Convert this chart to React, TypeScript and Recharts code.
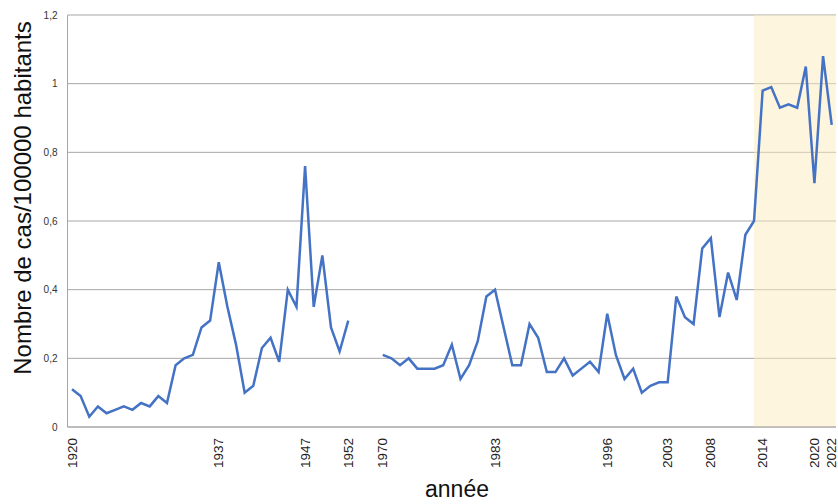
import React from 'react';
import {
  CartesianGrid,
  Label,
  Line,
  LineChart,
  ReferenceArea,
  XAxis,
  YAxis,
} from 'recharts';

// incidence (cas / 100000 habitants)
const FIRST_YEAR_EARLY = 1920;
const VALUES_EARLY = [
  0.11, 0.09, 0.03, 0.06, 0.04, 0.05, 0.06, 0.05, 0.07, 0.06,
  0.09, 0.07, 0.18, 0.2, 0.21, 0.29, 0.31, 0.48, 0.35, 0.24,
  0.1, 0.12, 0.23, 0.26, 0.19, 0.4, 0.35, 0.76, 0.35, 0.5,
  0.29, 0.22, 0.31,
];

const FIRST_YEAR_LATE = 1970;
const VALUES_LATE = [
  0.21, 0.2, 0.18, 0.2, 0.17, 0.17, 0.17, 0.18, 0.24, 0.14,
  0.18, 0.25, 0.38, 0.4, 0.29, 0.18, 0.18, 0.3, 0.26, 0.16,
  0.16, 0.2, 0.15, 0.17, 0.19, 0.16, 0.33, 0.21, 0.14, 0.17,
  0.1, 0.12, 0.13, 0.13, 0.38, 0.32, 0.3, 0.52, 0.55, 0.32,
  0.45, 0.37, 0.56, 0.6, 0.98, 0.99, 0.93, 0.94, 0.93, 1.05,
  0.71, 1.08, 0.88,
];

// empty slots left on the axis between 1952 and 1970
const GAP_SLOTS = ['gap-1', 'gap-2', 'gap-3'];

const X_TICKS = ['1920', '1937', '1947', '1952', '1970', '1983', '1996', '2003', '2008', '2014', '2020', '2022'];
const Y_TICKS = [0, 0.2, 0.4, 0.6, 0.8, 1, 1.2];

const HIGHLIGHT_FROM = '2013';
const HIGHLIGHT_TO = '2022';

const data = [
  ...VALUES_EARLY.map((v, i) => ({ year: String(FIRST_YEAR_EARLY + i), value: v })),
  ...GAP_SLOTS.map((g) => ({ year: g, value: null })),
  ...VALUES_LATE.map((v, i) => ({ year: String(FIRST_YEAR_LATE + i), value: v })),
];

const FONT = '"Liberation Sans", Arial, sans-serif';
const GRID = '#a6a6a6';

const YearTick = (props: any) => {
  const { x, y, payload } = props;
  return (
    <text
      x={x}
      y={y}
      transform={`rotate(-90, ${x}, ${y})`}
      textAnchor="end"
      dominantBaseline="central"
      fontSize={13.5}
      fontFamily={FONT}
      fill="#222"
    >
      {payload.value}
    </text>
  );
};

const Band = (props: any) => (
  <rect
    x={props.x}
    y={props.y}
    width={props.width + 4}
    height={props.height}
    fill="#fdebbf"
    fillOpacity={0.5}
  />
);

export default function App() {
  return (
    <div style={{ position: 'absolute', left: 0, top: 0, background: '#fff' }}>
      <LineChart
        width={838}
        height={504}
        data={data}
        margin={{ top: 15, right: 2, bottom: 0, left: 0 }}
      >
        <CartesianGrid vertical={false} stroke={GRID} strokeWidth={1} />
        <XAxis
          dataKey="year"
          ticks={X_TICKS}
          interval={0}
          tick={<YearTick />}
          tickLine={false}
          tickSize={0}
          tickMargin={11}
          axisLine={{ stroke: GRID }}
          padding={{ left: 4.5, right: 4.3 }}
          height={77}
        >
          <Label
            content={() => (
              <text x={457} y={497} textAnchor="middle" fontSize={23} fontFamily={FONT} fill="#111">
                année
              </text>
            )}
          />
        </XAxis>
        <YAxis
          domain={[0, 1.2]}
          ticks={Y_TICKS}
          interval={0}
          width={67.5}
          tickLine={false}
          tickSize={0}
          tickMargin={10}
          axisLine={{ stroke: GRID }}
          tick={{ fontSize: 10, fontFamily: FONT, fill: '#333' }}
          tickFormatter={(v: number) => String(v).replace('.', ',')}
        >
          <Label
            content={() => (
              <text
                x={22}
                y={198}
                transform="rotate(-90, 22, 198)"
                textAnchor="middle"
                dominantBaseline="central"
                fontSize={24}
                fontFamily={FONT}
                fill="#111"
              >
                Nombre de cas/100000 habitants
              </text>
            )}
          />
        </YAxis>
        <ReferenceArea
          x1={HIGHLIGHT_FROM}
          x2={HIGHLIGHT_TO}
          y1={0}
          y2={1.2}
          shape={<Band />}
        />
        <Line
          type="linear"
          dataKey="value"
          stroke="#4472c4"
          strokeWidth={2.5}
          dot={false}
          activeDot={false}
          connectNulls={false}
          isAnimationActive={false}
        />
      </LineChart>
    </div>
  );
}
